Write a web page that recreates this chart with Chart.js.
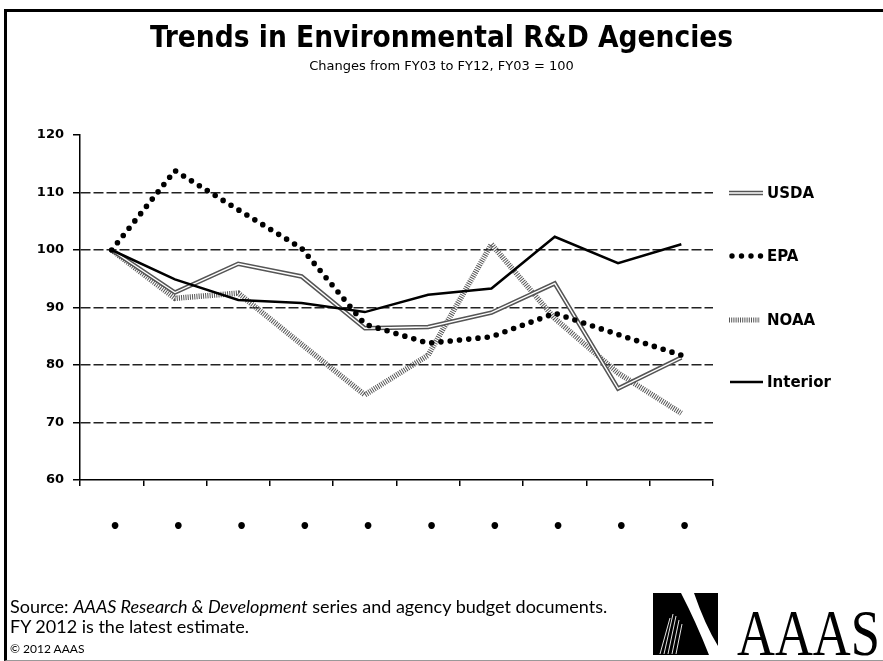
<!DOCTYPE html>
<html>
<head>
<meta charset="utf-8">
<script src="https://cdn.jsdelivr.net/npm/chart.js@4.4.1/dist/chart.umd.min.js"></script>
<style>
  html, body { margin: 0; padding: 0; background: #fff; }
  #page { position: relative; width: 883px; height: 661px; overflow: hidden; }
  #frame { position: absolute; left: 4px; top: 9px; width: 876px; height: 648px;
    border-top: 3px solid #000; border-left: 3px solid #000;
    border-right: 1px solid #999; border-bottom: 1px solid #999; }
  #chart { position: absolute; left: 0; top: 0; }
  .title { position: absolute; left: 0; width: 883px; text-align: center; color: #000; }
  #t1 { top: 20px; font: bold 29.5px "DejaVu Sans Condensed", "DejaVu Sans", sans-serif; }
  #t2 { top: 58px; font: 13px "DejaVu Sans", sans-serif; }
  #source { position: absolute; left: 10px; top: 596px; font: 18px Lato, "Open Sans", sans-serif; line-height: 20px; color: #000; }
  #source .small { font-size: 12px; line-height: 16px; }
  #logo { position: absolute; left: 0; top: 0; }
</style>
</head>
<body>
<div id="page">
  <canvas id="chart" width="883" height="661"></canvas>
  <div id="frame"></div>
  <div class="title" id="t1">Trends in Environmental R&amp;D Agencies</div>
  <div class="title" id="t2">Changes from FY03 to FY12, FY03 = 100</div>
  <div id="source">
    Source: <i>AAAS Research &amp; Development</i> series and agency budget documents.<br>
    FY 2012 is the latest estimate.<br>
    <span class="small">© 2012 AAAS</span>
  </div>
  <svg id="logo" width="883" height="661">
    <rect x="653" y="593" width="65" height="62" fill="#000"/>
    <path d="M681 593 L694 593 Q705 625 718 646 L718 655 L709 655 Q696 622 681 593 Z" fill="#fff"/>
    <g stroke="#fff" stroke-width="0.9">
      <line x1="660" y1="654" x2="670" y2="618"/>
      <line x1="664" y1="654" x2="673" y2="614"/>
      <line x1="668" y1="654" x2="676" y2="616"/>
      <line x1="672" y1="654" x2="679" y2="620"/>
      <line x1="676" y1="654" x2="682" y2="624"/>
    </g>
    <text x="737" y="655" font-family="Liberation Serif, DejaVu Serif, serif" font-size="65"
      textLength="143" lengthAdjust="spacingAndGlyphs" fill="#000">AAAS</text>
  </svg>
</div>
<script>
const categories = ["FY03", "FY04", "FY05", "FY06", "FY07", "FY08", "FY09", "FY10", "FY11", "FY12"];
const tickLabels = ["•", "•", "•", "•", "•", "•", "•", "•", "•", "•"];
const yTicks = [60, 70, 80, 90, 100, 110, 120];

const usda     = [100, 92.6, 97.6, 95.4, 86.4, 86.6, 89.1, 94.2, 75.9, 81.3];
const epa      = [100, 113.8, 107.0, 100.3, 87.1, 83.8, 84.9, 89.0, 85.3, 81.7];
const noaa     = [100, 91.6, 92.5, 83.6, 74.8, 81.7, 101.0, 88.1, 78.6, 71.6];
const interior = [100, 94.9, 91.3, 90.8, 89.2, 92.2, 93.3, 102.3, 97.7, 101.0];

const seriesNames = ["USDA", "EPA", "NOAA", "Interior"];

// legend drawn by hand, the stock one can't do double / hatched lines
const legendPlugin = {
  id: "sideLegend",
  afterDraw(chart) {
    const ctx = chart.ctx;
    const x0 = chart.chartArea.right + 16;
    const x1 = x0 + 34;
    const ys = [193, 256, 320, 382];
    ctx.save();
    ctx.lineCap = "butt";

    // USDA
    ctx.strokeStyle = "#555"; ctx.lineWidth = 4.5;
    ctx.beginPath(); ctx.moveTo(x0, ys[0]); ctx.lineTo(x1, ys[0]); ctx.stroke();
    ctx.strokeStyle = "#fff"; ctx.lineWidth = 1.4;
    ctx.beginPath(); ctx.moveTo(x0, ys[0]); ctx.lineTo(x1, ys[0]); ctx.stroke();

    // EPA
    ctx.fillStyle = "#000";
    for (let i = 0; i < 4; i++) {
      ctx.beginPath(); ctx.arc(x0 + 3 + i * 9.5, ys[1], 2.7, 0, Math.PI * 2); ctx.fill();
    }

    // NOAA
    ctx.strokeStyle = "#555"; ctx.lineWidth = 5; ctx.setLineDash([1, 1.2]);
    ctx.beginPath(); ctx.moveTo(x0, ys[2]); ctx.lineTo(x1 - 3, ys[2]); ctx.stroke();
    ctx.setLineDash([]);

    // Interior
    ctx.strokeStyle = "#000"; ctx.lineWidth = 2.5;
    ctx.beginPath(); ctx.moveTo(x0 + 1, ys[3]); ctx.lineTo(x1, ys[3]); ctx.stroke();

    ctx.fillStyle = "#000";
    ctx.font = "bold 15px 'DejaVu Sans', sans-serif";
    ctx.textBaseline = "middle";
    seriesNames.forEach((n, i) => ctx.fillText(n, x1 + 4, ys[i] + 1));
    ctx.restore();
  }
};

new Chart(document.getElementById("chart"), {
  type: "line",
  data: {
    labels: categories,
    datasets: [
      { label: "Interior", data: interior, borderColor: "#000", borderWidth: 2.5, pointRadius: 0, tension: 0 },
      { label: "EPA", data: epa, borderColor: "#000", borderWidth: 5.6, borderDash: [0, 9.3],
        borderCapStyle: "round", pointRadius: 0, tension: 0 },
      { label: "USDA", data: usda, borderColor: "#fff", borderWidth: 1.4, pointRadius: 0, tension: 0 },
      { label: "USDA outline", data: usda, borderColor: "#555", borderWidth: 4.5, pointRadius: 0, tension: 0 },
      { label: "NOAA", data: noaa, borderColor: "#555", borderWidth: 5.5, borderDash: [1, 1.2],
        pointRadius: 0, tension: 0 }
    ]
  },
  options: {
    responsive: false,
    animation: false,
    layout: { padding: { left: 0, right: 170, top: 135, bottom: 0 } },
    plugins: { legend: { display: false }, tooltip: { enabled: false } },
    scales: {
      x: {
        offset: true,
        afterFit: s => { s.height = 181; },
        border: { display: true, color: "#000", width: 1.5 },
        grid: { offset: true, drawOnChartArea: false, drawTicks: true, tickLength: 6,
          tickColor: "#000", lineWidth: 1.5 },
        ticks: { padding: 31, color: "#000", maxRotation: 0, autoSkip: false,
          font: { family: "DejaVu Sans", size: 19, weight: "bold" },
          callback: (v, i) => " " + tickLabels[i] }
      },
      y: {
        min: yTicks[0],
        max: yTicks[yTicks.length - 1],
        afterFit: s => { s.width = 80; },
        afterBuildTicks: s => { s.ticks = yTicks.map(v => ({ value: v })); },
        border: { display: true, color: "#000", width: 1.5, dash: [10, 3] },
        grid: {
          color: c => (c.tick && (c.tick.value === 60 || c.tick.value === 120)) ? "rgba(0,0,0,0)" : "#222",
          lineWidth: 1.5,
          tickBorderDash: [],
          tickColor: "#000",
          tickLength: 7
        },
        ticks: { padding: 9, color: "#000", font: { family: "DejaVu Sans", size: 13, weight: "bold" } }
      }
    }
  },
  plugins: [legendPlugin]
});
</script>
</body>
</html>
